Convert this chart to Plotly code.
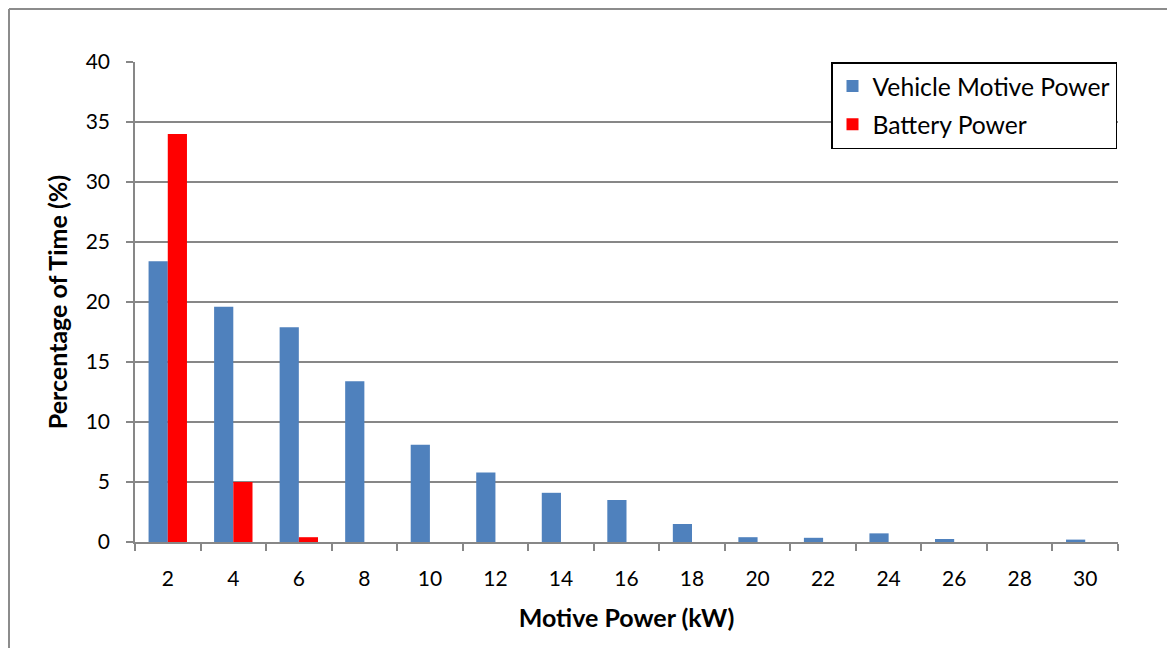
import plotly.graph_objects as go

categories = ["2", "4", "6", "8", "10", "12", "14", "16", "18", "20", "22", "24", "26", "28", "30"]
vehicle_motive_power = [23.4, 19.6, 17.9, 13.4, 8.1, 5.8, 4.1, 3.5, 1.5, 0.4, 0.35, 0.72, 0.25, 0.0, 0.2]
battery_power = [34.0, 5.0, 0.4, 0, 0, 0, 0, 0, 0, 0, 0, 0, 0, 0, 0]
y_ticks = [0, 5, 10, 15, 20, 25, 30, 35, 40]

FONT = "Lato"
GRID = "#878787"

# page has an 8px body margin: figure occupies 8..1175 x 8..648
W, H = 1167, 640
L, R, T, B = 127, 57, 54, 106
PW, PH = W - L - R, H - T - B


def fx(xf):
    # figure pixel -> paper x
    return (xf - L) / PW


def fy(yf):
    # figure pixel -> paper y
    return (H - B - yf) / PH


fig = go.Figure()
fig.add_trace(go.Bar(
    x=categories, y=vehicle_motive_power, name="Vehicle Motive Power",
    marker=dict(color="#4F81BD", line=dict(width=0)),
    legendgroup="a",
))
fig.add_trace(go.Bar(
    x=categories, y=battery_power, name="Battery Power",
    marker=dict(color="#FF0000", line=dict(width=0)),
    legendgroup="b",
))

fig.update_layout(
    width=W, height=H,
    margin=dict(l=L, r=R, t=T, b=B),
    paper_bgcolor="white", plot_bgcolor="white",
    barmode="group", bargap=0.414, bargroupgap=0,
    font=dict(family=FONT, size=21, color="black"),
    showlegend=True,
    legend=dict(
        x=fx(831 - 8), y=1.0, xanchor="left", yanchor="top",
        bgcolor="white", bordercolor="black", borderwidth=1.5,
        font=dict(family=FONT, size=24.7, color="black"),
        tracegroupgap=3, traceorder="grouped",
    ),
    xaxis=dict(
        type="category", tickson="boundaries",
        ticks="outside", ticklen=7, tickcolor=GRID, tickwidth=1.5,
        showline=True, linecolor=GRID, linewidth=1.5,
        showgrid=False,
        tickfont=dict(family=FONT, size=21),
        ticklabelstandoff=17,
        title=dict(text="<b>Motive Power (kW)</b>", font=dict(family=FONT, size=25), standoff=21),
    ),
    yaxis=dict(
        range=[0, 40], tickvals=y_ticks,
        ticks="outside", ticklen=7, tickcolor=GRID, tickwidth=1.5,
        showline=True, linecolor=GRID, linewidth=1.5,
        showgrid=True, gridcolor=GRID, gridwidth=1.5,
        zeroline=False,
        tickfont=dict(family=FONT, size=21),
        ticklabelstandoff=12,
        title=dict(text="<b>Percentage of Time (%)</b>", font=dict(family=FONT, size=25), standoff=11),
    ),
    shapes=[
        dict(type="line", xref="paper", yref="paper",
             x0=fx(1), x1=1.2, y0=fy(1), y1=fy(1),
             line=dict(color="#8c8c8c", width=2)),
        dict(type="line", xref="paper", yref="paper",
             x0=fx(1), x1=fx(1), y0=fy(1), y1=-0.3,
             line=dict(color="#8c8c8c", width=2)),
    ],
)

fig.write_html("out.html")
